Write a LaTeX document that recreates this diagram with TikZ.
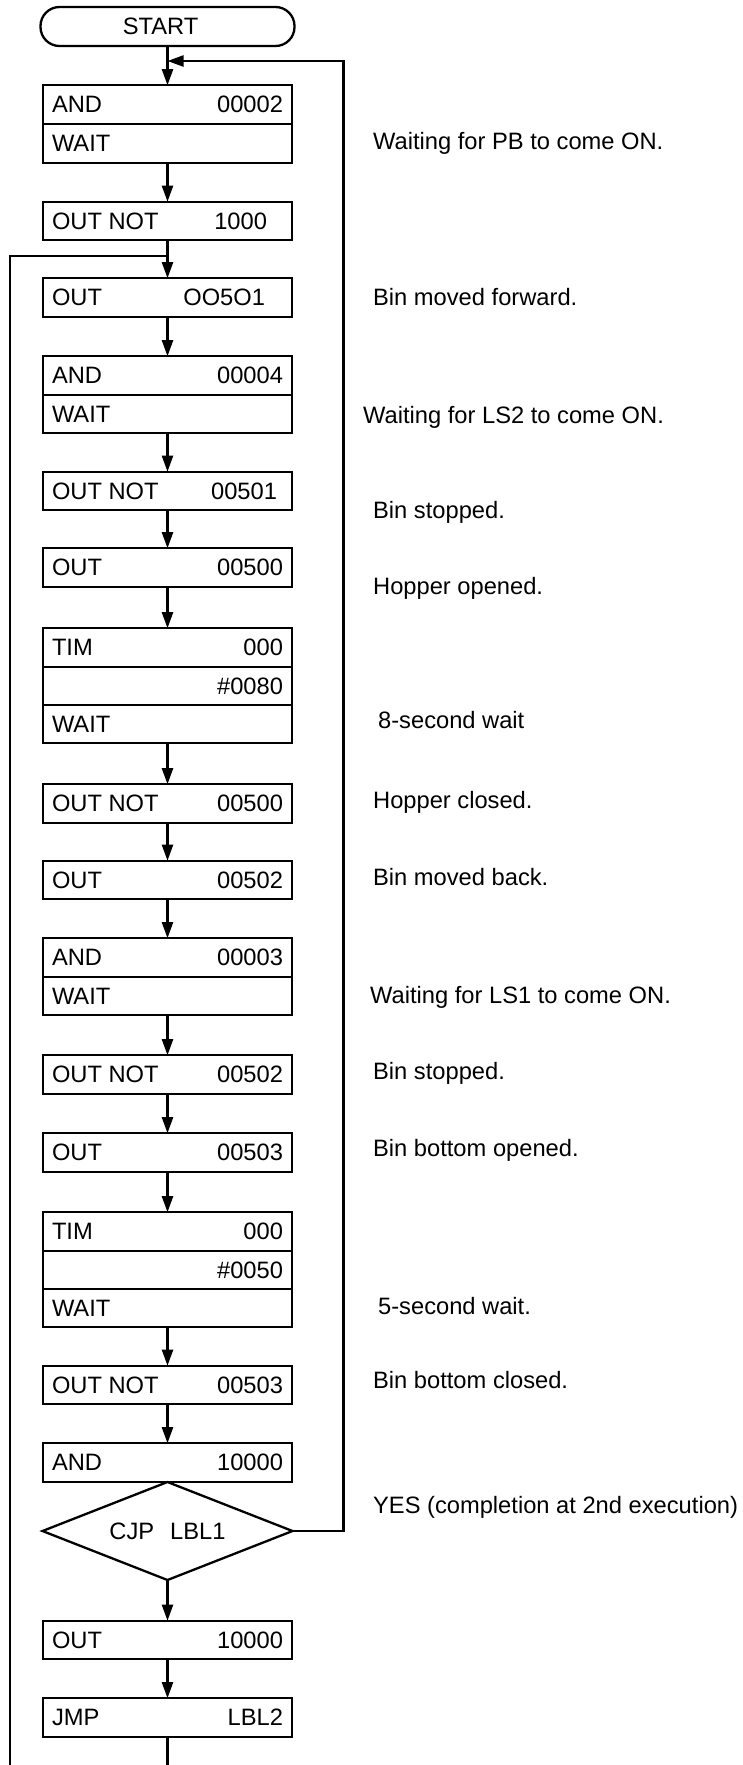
\documentclass[tikz,border=0pt]{standalone}
\usepackage{fontspec}
\setmainfont{Liberation Sans}
\usetikzlibrary{arrows.meta,shapes.geometric,positioning}

% operand row: instruction left, operand right
\newcommand{\lr}[2]{\makebox[231pt]{#1\hfill#2}}

\begin{document}
\begin{tikzpicture}[x=1pt,y=-1pt,
        line width=2.3pt,
        font=\fontsize{23.7pt}{28pt}\selectfont,
        row/.style={draw,minimum width=249pt,minimum height=38.6pt,inner sep=0pt,outer sep=0pt},
        term/.style={draw,rounded corners=19pt,minimum width=254pt,minimum height=39pt,inner sep=0pt,outer sep=0pt},
        test/.style={draw,diamond,aspect=2.55,minimum width=250pt,minimum height=98pt,inner sep=0pt,outer sep=0pt},
        note/.style={anchor=base west,inner sep=0pt},
        flow/.style={-{Triangle[length=16pt,width=11pt]}}]

    \useasboundingbox (0,0) rectangle (742,1765);

    \node[term] (start) at (167.5,26.5) {\hspace*{-14pt}START};

    \foreach \n/\y/\l/\r in {b1a/104.5/AND/00002, b1b/143.5/WAIT/{},
            b2/221/OUT NOT/{1000\hspace*{16pt}}, b3/297.5/OUT/{OO5O1\hspace*{18pt}},
            b4a/375.5/AND/00004, b4b/414/WAIT/{},
            b5/491/OUT NOT/{00501\hspace*{6pt}}, b6/567.5/OUT/00500,
            b7a/647.5/TIM/000, b7b/686/{}/\#0080, b7c/724/WAIT/{},
            b8/803.5/OUT NOT/00500, b9/880/OUT/00502,
            b10a/957.5/AND/00003, b10b/996/WAIT/{},
            b11/1074.5/OUT NOT/00502, b12/1152.5/OUT/00503,
            b13a/1231.5/TIM/000, b13b/1270/{}/\#0050, b13c/1308/WAIT/{},
            b14/1385/OUT NOT/00503, b15/1462.5/AND/10000,
            b16/1640/OUT/10000, b17/1717.5/JMP/LBL2}
    \node[row] (\n) at (167.5,\y) {\lr{\l}{\r}};

    \node[test] (cjp) at (167.5,1531) {CJP\hspace{16pt}LBL1};

    \foreach \a/\b in {start/b1a, b1b/b2, b2/b3, b3/b4a, b4b/b5, b5/b6, b6/b7a,
            b7c/b8, b8/b9, b9/b10a, b10b/b11, b11/b12, b12/b13a, b13c/b14,
            b14/b15, cjp/b16, b16/b17}
    \draw[flow] (\a) -- (\b);

    % LBL1 loop back to the top
    \coordinate (lbl1) at (167.5,61);
    \draw[flow] (cjp.east) -- ++(51,0) |- (lbl1);

    % LBL2 jump line on the left
    \coordinate (lbl2) at (167.5,256);
    \coordinate (lbl2end) at (10,1765);
    \draw (lbl2) -| (lbl2end);
    \coordinate (exit) at (167.5,1765);
    \draw (b17) -- (exit);

    \node[note] (pb) at (372,149) {Waiting for PB to come ON.};
    \node[note] (fwd) at (372,305) {Bin moved forward.};
    \node[note] (ls2) at (362,423) {Waiting for LS2 to come ON.};
    \node[note] (stop1) at (372,518) {Bin stopped.};
    \node[note] (hopo) at (372,594) {Hopper opened.};
    \node[note] (wait8) at (377,728) {8-second wait};
    \node[note] (hopc) at (372,808) {Hopper closed.};
    \node[note] (back) at (372,885) {Bin moved back.};
    \node[note] (ls1) at (369,1003) {Waiting for LS1 to come ON.};
    \node[note] (stop2) at (372,1079) {Bin stopped.};
    \node[note] (bbo) at (372,1156) {Bin bottom opened.};
    \node[note] (wait5) at (377,1314) {5-second wait.};
    \node[note] (bbc) at (372,1388) {Bin bottom closed.};
    \node[note] (yes) at (372,1513) {YES (completion at 2nd execution)};
\end{tikzpicture}
\end{document}
